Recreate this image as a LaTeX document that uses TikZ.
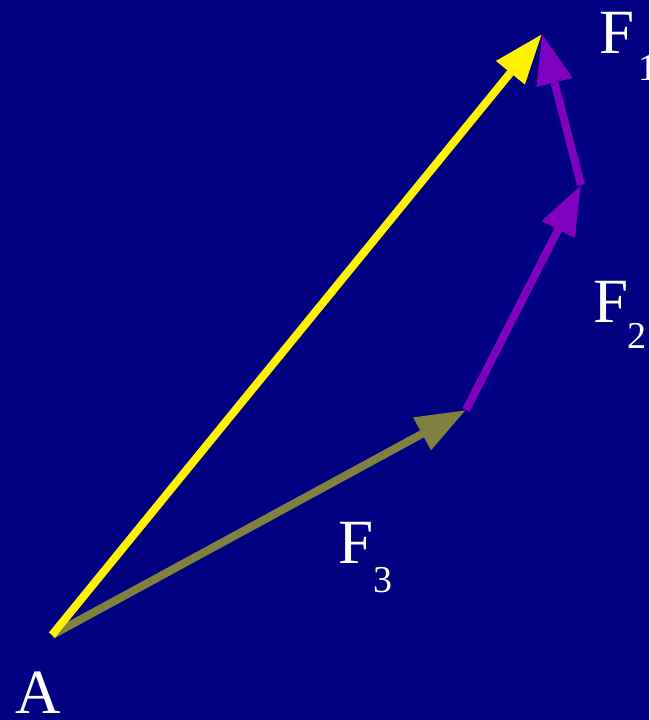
\documentclass[tikz,border=0pt]{standalone}
\usepackage{fontspec}
\setmainfont{Liberation Serif}
\usepackage{tikz}
\usetikzlibrary{arrows.meta}

\begin{document}
\begin{tikzpicture}[
  x=1pt, y=-1pt,
  vec/.style={-{Triangle[length=50pt, width=35pt]}, line width=8pt},
  lbl/.style={anchor=base west, inner sep=0pt, text=white, font=\fontsize{63}{63}\selectfont},
  sub/.style={anchor=base west, inner sep=0pt, text=white, font=\fontsize{38}{38}\selectfont}
]
  \definecolor{navy}{RGB}{0,0,128}
  \definecolor{olivevec}{RGB}{128,128,64}
  \definecolor{purplevec}{RGB}{128,0,192}
  \fill[navy] (0,0) rectangle (649,720);
  \useasboundingbox (0,0) rectangle (649,720);

  \coordinate (A) at (52,635);
  \coordinate (p3) at (466,410);
  \coordinate (p2) at (581,185);
  \coordinate (p1) at (542,34);

  \draw[vec, color=olivevec] (A) -- (p3);
  \draw[vec, color=purplevec] (p3) -- (p2);
  \draw[vec, color=purplevec] (p2) -- (p1);
  \draw[vec, color=yellow] (A) -- (p1);

  \node[lbl] (labA) at (15,713) {A};
  \node[lbl] (labF1) at (599,53) {F};
  \node[sub] (labF1s) at (638,80) {1};
  \node[lbl] (labF2) at (593,322) {F};
  \node[sub] (labF2s) at (627,348) {2};
  \node[lbl] (labF3) at (338,563) {F};
  \node[sub] (labF3s) at (373,592) {3};
\end{tikzpicture}
\end{document}
